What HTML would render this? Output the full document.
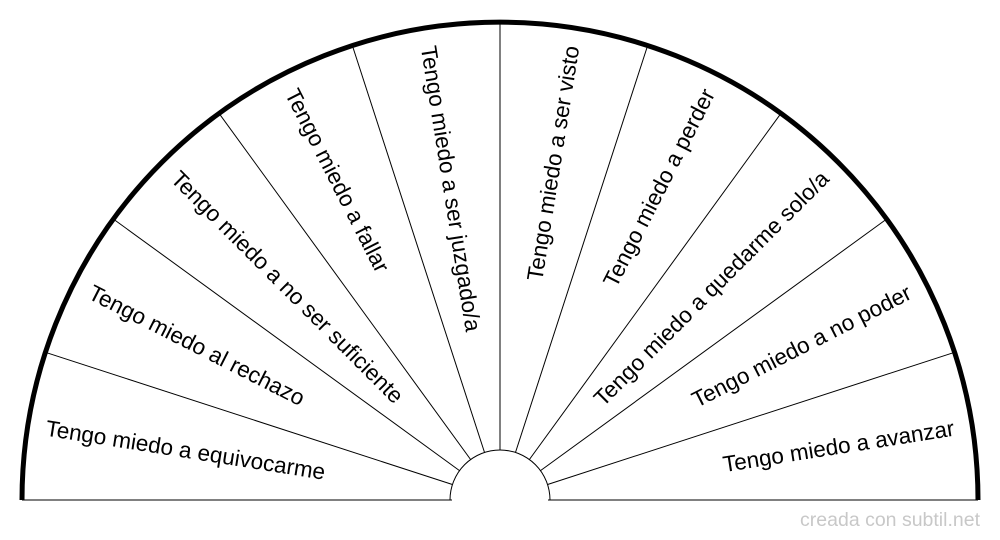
<!DOCTYPE html>
<html><head><meta charset="utf-8"><style>
html,body{margin:0;padding:0;background:#fff;}
svg{display:block;}
text{font-family:"Liberation Sans",Arial,sans-serif;font-size:22.5px;fill:#000;}
</style></head><body>
<svg width="1000" height="540" viewBox="0 0 1000 540" xmlns="http://www.w3.org/2000/svg">
<g stroke="#000" stroke-width="1" fill="none">
<line x1="22" y1="500" x2="452" y2="500"/>
<line x1="548" y1="500" x2="978" y2="500"/>
<path d="M450,500 A50,50 0 0 1 550,500"/>
<line x1="452.4" y1="484.5" x2="45.4" y2="352.3"/>
<line x1="459.5" y1="470.6" x2="113.3" y2="219"/>
<line x1="470.6" y1="459.5" x2="219" y2="113.3"/>
<line x1="484.5" y1="452.4" x2="352.3" y2="45.4"/>
<line x1="500" y1="450" x2="500" y2="22"/>
<line x1="515.5" y1="452.4" x2="647.7" y2="45.4"/>
<line x1="529.4" y1="459.5" x2="781" y2="113.3"/>
<line x1="540.5" y1="470.6" x2="886.7" y2="219"/>
<line x1="547.6" y1="484.5" x2="954.6" y2="352.3"/>
</g>
<path d="M22,500 A478,478 0 0 1 978,500" stroke="#000" stroke-width="5" fill="none"/>
<g dominant-baseline="central">
<text x="45.9" y="428.1" transform="rotate(9 45.9 428.1)">Tengo miedo a equivocarme</text>
<text x="90.3" y="291.2" transform="rotate(27 90.3 291.2)">Tengo miedo al rechazo</text>
<text x="174.9" y="174.9" transform="rotate(45 174.9 174.9)">Tengo miedo a no ser suficiente</text>
<text x="291.2" y="90.3" transform="rotate(63 291.2 90.3)">Tengo miedo a fallar</text>
<text x="428.1" y="45.9" transform="rotate(81 428.1 45.9)">Tengo miedo a ser juzgado/a</text>
<text x="571.9" y="45.9" text-anchor="end" transform="rotate(-81 571.9 45.9)">Tengo miedo a ser visto</text>
<text x="708.8" y="90.3" text-anchor="end" transform="rotate(-63 708.8 90.3)">Tengo miedo a perder</text>
<text x="825.1" y="174.9" text-anchor="end" transform="rotate(-45 825.1 174.9)">Tengo miedo a quedarme solo/a</text>
<text x="909.7" y="291.2" text-anchor="end" transform="rotate(-27 909.7 291.2)">Tengo miedo a no poder</text>
<text x="954.1" y="428.1" text-anchor="end" transform="rotate(-9 954.1 428.1)">Tengo miedo a avanzar</text>
</g>
<text x="980" y="526" text-anchor="end" style="font-size:19.5px;fill:#c8c8c8">creada con subtil.net</text>
</svg>
</body></html>
